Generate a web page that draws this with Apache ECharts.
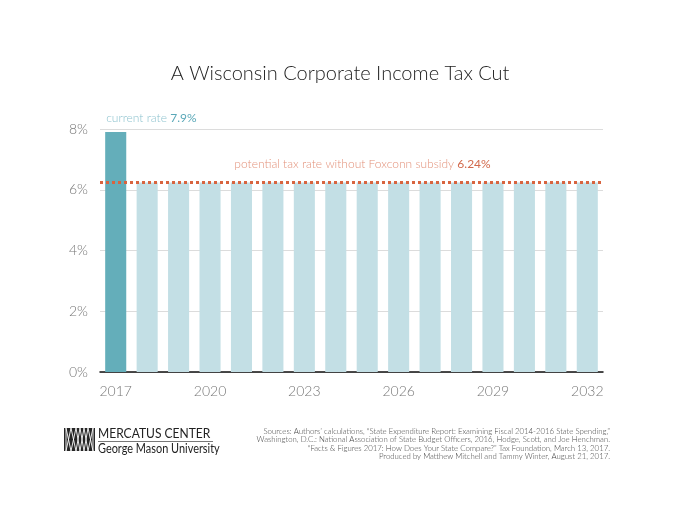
<!DOCTYPE html>
<html><head><meta charset="utf-8">
<script src="https://cdn.jsdelivr.net/npm/echarts@6/dist/echarts.min.js"></script>
<style>html,body{margin:0;padding:0;background:#fff}#c{width:680px;height:525px}</style>
</head><body><div id="c"></div>
<script>
const years = ['2017','2018','2019','2020','2021','2022','2023','2024','2025','2026','2027','2028','2029','2030','2031','2032'];
const rates = [7.9,6.24,6.24,6.24,6.24,6.24,6.24,6.24,6.24,6.24,6.24,6.24,6.24,6.24,6.24,6.24];
const potentialRate = 6.24;
const currentRate = 7.9;
const yTicks = [0,2,4,6,8];
const sources = [
 'Sources: Authors\u2019 calculations, \u201cState Expenditure Report: Examining Fiscal 2014-2016 State Spending,\u201d',
 'Washington, D.C.: National Association of State Budget Officers, 2016, Hodge, Scott, and Joe Henchman.',
 '\u201cFacts & Figures 2017: How Does Your State Compare?\u201d Tax Foundation, March 13, 2017.',
 'Produced by Matthew Mitchell and Tammy Winter, August 21, 2017.'
];
const FONT = 'Lato, "Open Sans", sans-serif';
const chart = echarts.init(document.getElementById('c'));
const data = rates.map((v,i)=>({
  value:v,
  itemStyle:{color: i===0 ? '#64aeba' : '#c3dfe5'},
  label: i===0 ? {show:true, position:[1,-14], align:'left', verticalAlign:'middle',
    formatter:'{a|current rate }{b|' + currentRate + '%}',
    rich:{a:{color:'#8ec3cf',fontSize:12,fontFamily:FONT,fontWeight:300},b:{color:'#5aa8b8',fontSize:12,fontFamily:FONT,fontWeight:400}}} : {show:false}
}));
chart.setOption({
  animation:false,
  title:{text:'A Wisconsin Corporate Income Tax Cut',left:'center',top:59,
    textStyle:{fontFamily:FONT,fontSize:20,fontWeight:300,color:'#222'}},
  grid:{left:100,right:77,top:129,bottom:153,containLabel:false},
  xAxis:{type:'category',data:years,
    axisLine:{lineStyle:{color:'#111',width:1.5}},axisTick:{show:false},
    axisLabel:{interval:2,color:'#777',fontSize:14,fontWeight:300,fontFamily:FONT,margin:12}},
  yAxis:{type:'value',min:yTicks[0],max:yTicks[yTicks.length-1],interval:2,
    axisLine:{show:false},axisTick:{show:false},
    splitLine:{lineStyle:{color:'#dcdcdc',width:1}},
    axisLabel:{formatter:'{value}%',color:'#777',fontSize:14,fontWeight:300,fontFamily:FONT,margin:12}},
  series:[{type:'bar',data:data,barCategoryGap:'33%',
    markLine:{silent:true,symbol:'none',
      lineStyle:{type:[3,3],color:'#d8643f',width:3},
      label:{show:true,position:'insideMiddleTop',distance:12,padding:[0,0,0,22],
        formatter:'{a|potential tax rate without Foxconn subsidy }{b|' + potentialRate + '%}',
        rich:{a:{color:'#e3937c',fontSize:12,fontFamily:FONT,fontWeight:300},b:{color:'#d26a4c',fontSize:12,fontFamily:FONT,fontWeight:400}}},
      data:[{yAxis:potentialRate}]}
  }],
  graphic:[
    {type:'rect',shape:{x:64,y:428,width:31,height:23},style:{fill:'#262626'}},
    {type:'polyline',shape:{points:[[66,451],[71,428],[76,451],[80,428],[84,451],[88,428],[93,451]]},style:{stroke:'#fff',lineWidth:0.9,fill:null}},
    {type:'polyline',shape:{points:[[66,428],[71,451],[76,428],[80,451],[84,428],[88,451],[93,428]]},style:{stroke:'#fff',lineWidth:0.9,fill:null}},
    {type:'polyline',shape:{points:[[66,428],[66,451]]},style:{stroke:'#fff',lineWidth:0.9}},
    {type:'polyline',shape:{points:[[93,428],[93,451]]},style:{stroke:'#fff',lineWidth:0.9}},
    {type:'text',x:98,y:433,scaleX:0.86,style:{text:'MERCATUS CENTER',font:'14px Lato, sans-serif',fill:'#222',verticalAlign:'middle'}},
    {type:'line',shape:{x1:98,y1:441.5,x2:213,y2:441.5},style:{stroke:'#555',lineWidth:0.8}},
    {type:'text',x:98,y:449,scaleX:0.84,style:{text:'George Mason University',font:'13px Lato, sans-serif',fill:'#222',verticalAlign:'middle'}},
    ...sources.map((t,i)=>({type:'text',x:610,y:431+i*8.5,style:{text:t,font:'300 7.8px '+FONT,fill:'#444',align:'right',verticalAlign:'middle'}}))
  ]
});
</script></body></html>
